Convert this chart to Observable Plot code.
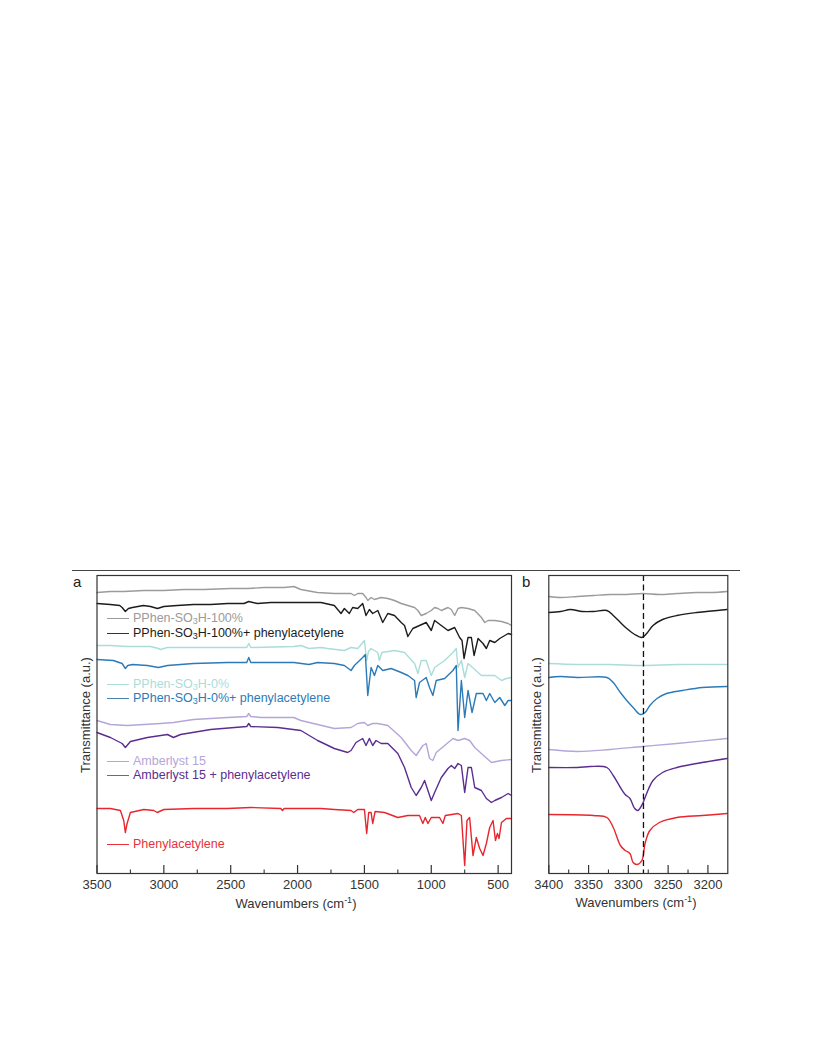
<!DOCTYPE html>
<html><head><meta charset="utf-8">
<script src="https://cdn.jsdelivr.net/npm/d3@7"></script>
<script src="https://cdn.jsdelivr.net/npm/@observablehq/plot@0.6"></script>
<style>
body{margin:0;background:#fff;font-family:"Liberation Sans",Arial,Helvetica,sans-serif;}
#page{position:relative;width:816px;height:1056px;overflow:hidden;background:#fff;}
#page svg{overflow:visible;}
</style></head><body><div id="page"></div>
<script>
// ---------- DATA (wavenumber cm-1, transmittance a.u. offset) ----------
// Panel a
const pphen100 = [[3500,281],[3400,282],[3300,282],[3150,283],[3000,283],[2850,284],[2700,284],[2500,285],[2370,285],[2250,286],[2100,286],[2028,287],[1975,284],[1853,281],[1725,280],[1600,280],[1575,278],[1550,280],[1513,280],[1488,276],[1475,273],[1450,276],[1425,274],[1375,276],[1325,275],[1275,273],[1225,270],[1175,268],[1125,266],[1100,263],[1075,258],[1038,260],[1000,263],[975,266],[950,265],[925,263],[875,266],[850,264],[825,258],[800,265],[775,266],[725,265],[675,263],[625,256],[600,251],[575,253],[525,253],[475,252],[425,250],[400,248]];
const pphen100ph = [[3500,270],[3400,269],[3330,268],[3312,266],[3288,262],[3265,265],[3235,266],[3153,268],[3100,267],[3048,265],[3000,267],[2900,268],[2778,269],[2650,269],[2523,270],[2400,270],[2365,272],[2300,270],[2200,271],[2100,271],[2028,271],[1975,271],[1825,271],[1725,268],[1675,260],[1650,265],[1613,260],[1588,266],[1550,265],[1513,270],[1488,258],[1463,264],[1438,260],[1400,263],[1363,251],[1325,260],[1275,258],[1225,251],[1200,248],[1175,237],[1138,245],[1088,248],[1038,251],[1000,243],[975,253],[925,248],[875,243],[825,246],[788,236],[770,233],[755,215],[725,236],[700,236],[680,218],[650,235],[613,230],[588,225],[563,233],[525,231],[488,235],[450,238],[425,240],[400,239]];
const pphen0 = [[3500,228],[3400,228],[3273,227],[3100,227],[3040,225],[3025,224],[2973,226],[2778,226],[2523,226],[2380,226],[2365,230],[2350,226],[2028,227],[1975,228],[1915,225],[1825,226],[1775,225],[1650,223],[1600,226],[1550,225],[1500,233],[1483,213],[1470,222],[1450,225],[1400,221],[1388,213],[1370,221],[1275,223],[1200,221],[1125,210],[1100,200],[1075,213],[1038,213],[1000,198],[975,206],[900,213],[838,221],[813,225],[800,206],[775,213],[750,196],[725,210],[625,198],[525,198],[475,193],[438,195],[400,196]];
const pphen0ph = [[3500,214],[3378,213],[3312,210],[3288,205],[3270,208],[3235,209],[3123,208],[3040,206],[2973,208],[2778,210],[2523,211],[2380,211],[2365,216],[2350,211],[2028,211],[1915,209],[1850,211],[1725,210],[1650,208],[1600,203],[1575,208],[1513,216],[1493,219],[1475,178],[1450,206],[1425,198],[1400,208],[1363,203],[1300,205],[1225,201],[1175,198],[1125,193],[1113,176],[1088,191],[1038,196],[1013,186],[988,178],[963,193],[900,195],[838,203],[813,208],[800,143],[775,193],[750,156],[725,183],[695,161],[663,180],[613,180],[588,173],[563,180],[525,171],[488,176],[450,168],[425,173],[400,173]];
const amb = [[3500,153],[3400,149],[3273,148],[3025,150],[2928,151],[2778,154],[2523,156],[2380,157],[2365,160],[2350,157],[2275,156],[2028,156],[1975,153],[1850,149],[1725,145],[1600,146],[1550,150],[1500,151],[1475,148],[1438,150],[1400,150],[1325,148],[1225,136],[1150,123],[1113,118],[1063,128],[1038,130],[1013,115],[988,113],[963,121],[900,128],[838,135],[800,133],[750,135],[713,133],[675,126],[625,120],[550,111],[475,113],[400,114]];
const ambph = [[3500,141],[3400,136],[3312,130],[3288,126],[3250,132],[3123,136],[2973,139],[2928,136],[2875,139],[2650,144],[2380,147],[2365,150],[2350,147],[2148,146],[1975,143],[1850,133],[1725,125],[1625,121],[1600,123],[1563,131],[1513,135],[1488,128],[1463,135],[1438,128],[1413,133],[1375,130],[1325,130],[1250,120],[1200,106],[1150,86],[1113,78],[1075,86],[1050,93],[1025,83],[1000,73],[975,81],[925,96],[875,105],[850,108],[825,105],[800,110],[775,108],[750,81],[725,106],[700,106],[675,86],[625,83],[588,75],[550,71],[525,73],[475,76],[425,80],[400,78]];
const phen = [[3500,65],[3400,65],[3325,63],[3300,53],[3288,41],[3275,50],[3250,61],[3150,64],[3075,63],[3050,61],[3000,64],[2775,65],[2525,65],[2350,66],[2125,65],[2113,63],[2100,65],[2025,65],[1825,65],[1725,64],[1600,63],[1580,61],[1550,64],[1500,64],[1483,40],[1468,61],[1450,61],[1438,50],[1420,62],[1350,61],[1250,56],[1175,58],[1088,58],[1063,50],[1045,56],[1025,50],[1000,56],[938,56],[913,50],[895,58],[800,60],[775,58],[750,8],[733,53],[713,56],[688,18],[663,36],[638,25],[613,18],[588,30],[563,46],[538,53],[520,33],[505,40],[493,35],[475,51],[438,55],[400,55]];

// Panel b (zoom 3400-3175)
const b_pphen100 = [[3400,277],[3385,276],[3364,277],[3344,278],[3323,279],[3302,279],[3282,280],[3261,279],[3239,280],[3214,281],[3195,281],[3176,282]];
const b_pphen100ph = [[3400,261],[3385,262],[3373,264],[3358,262],[3344,262],[3327,263],[3319,258],[3310,251],[3302,245],[3292,239],[3283,236],[3277,240],[3269,248],[3257,254],[3239,258],[3214,261],[3176,264]];
const b_pphen0 = [[3400,210],[3364,209],[3323,209],[3282,208],[3239,209],[3176,209]];
const b_pphen0ph = [[3400,196],[3385,197],[3364,196],[3327,196],[3319,191],[3310,181],[3302,173],[3294,166],[3285,159],[3279,161],[3273,168],[3264,175],[3252,180],[3232,183],[3207,186],[3176,187]];
const b_amb = [[3400,124],[3364,122],[3323,124],[3282,127],[3239,130],[3176,135]];
const b_ambph = [[3400,106],[3364,106],[3348,107],[3327,106],[3319,98],[3310,86],[3304,79],[3298,75],[3292,65],[3288,63],[3282,70],[3277,80],[3269,93],[3257,101],[3239,106],[3214,110],[3176,115]];
const b_phen = [[3400,59],[3344,58],[3327,56],[3319,46],[3310,28],[3304,23],[3298,20],[3294,11],[3289,9],[3283,13],[3279,30],[3273,43],[3261,51],[3239,56],[3207,58],[3176,60]];
const markerLine = [3281];

const seriesLabels = ["PPhen-SO3H-100%","PPhen-SO3H-100%+ phenylacetylene","PPhen-SO3H-0%","PPhen-SO3H-0%+ phenylacetylene","Amberlyst 15","Amberlyst 15 + phenylacetylene","Phenylacetylene"];
const ticksA = [3500,3000,2500,2000,1500,1000,500];
const minorA = [3250,2750,2250,1750,1250,750];
const ticksB = [3400,3350,3300,3250,3200];
const minorB = [3375,3325,3275,3225];

// ---------- STYLES ----------
const colors = ["#9b9b9b","#1c1c1c","#a9ddd9","#2b7bb9","#b4a6d8","#5b2d90","#e8262e"];
const textColors = ["#9a9a9a","#1c1c1c","#a9ddd9","#2b7bb9","#b4a6d8","#5b2d90","#e8323a"];
const swatchColors = ["#9b9b9b","#333333","#a9ddd9","#4a7fae","#b4a6d8","#7a5aa8","#e8323a"];
const legendY = [617.5, 632.5, 683.5, 698, 760.5, 775, 844];
const FONT = "'Liberation Sans', Arial, Helvetica, sans-serif";

const page = document.getElementById("page");
function place(el, css){ Object.assign(el.style, {position:"absolute"}, css); page.appendChild(el); return el; }

const dataA = [pphen100, pphen100ph, pphen0, pphen0ph, amb, ambph, phen];
const dataB = [b_pphen100, b_pphen100ph, b_pphen0, b_pphen0ph, b_amb, b_ambph, b_phen];

function axisMarks(major, minor){
  return [
    Plot.ruleX(major, {x: d=>d, insetTop: 290, stroke:"#333", strokeWidth:1.2}),
    Plot.ruleX(minor, {x: d=>d, insetTop: 294.5, stroke:"#333", strokeWidth:1.1}),
    Plot.axisX(major, {tickSize: 0, tickPadding: 6, tickFormat: d=>String(d), label: null, fontSize: 13, fill:"#333"}),
    Plot.frame({stroke:"#333", strokeWidth:1.2})
  ];
}

const plotA = Plot.plot({
  width: 460, height: 360, marginLeft: 36.5, marginRight: 9, marginTop: 15, marginBottom: 47,
  style: {fontFamily: FONT, fontSize: "13px", color:"#333", background:"none", overflow:"visible"},
  x: {domain: [3500, 400]},
  y: {domain: [0, 298], axis: null},
  marks: [
    ...dataA.map((d,i)=>Plot.line(d, {x: p=>p[0], y: p=>p[1], stroke: colors[i], strokeWidth: 1.4, strokeLinejoin:"round"})),
    ...axisMarks(ticksA, minorA)
  ]
});
place(plotA, {left:"60px", top:"560px"});

const plotB = Plot.plot({
  width: 220, height: 360, marginLeft: 28.3, marginRight: 12.7, marginTop: 15, marginBottom: 47,
  style: {fontFamily: FONT, fontSize: "13px", color:"#333", background:"none", overflow:"visible"},
  x: {domain: [3400, 3175]},
  y: {domain: [0, 298], axis: null},
  marks: [
    ...dataB.map((d,i)=>Plot.line(d, {x: p=>p[0], y: p=>p[1], stroke: colors[i], strokeWidth: 1.4, curve:"catmull-rom"})),
    Plot.ruleX(markerLine, {x: d=>d, stroke:"#111", strokeWidth:1.3, strokeDasharray:"6,3.5"}),
    ...axisMarks(ticksB, minorB)
  ]
});
place(plotB, {left:"520px", top:"560px"});

// top rule
const hr = document.createElement("div");
place(hr, {left:"72px", top:"570px", width:"668px", height:"0", borderTop:"1.3px solid #444"});

// panel letters
[["a",73],["b",522]].forEach(([t,x])=>{
  const d = document.createElement("div"); d.textContent = t;
  place(d, {left:x+"px", top:"573px", fontSize:"15px", lineHeight:"17px", color:"#222", fontFamily:FONT});
});

// y labels
[84.5, 536].forEach(x=>{
  const d = document.createElement("div"); d.textContent = "Transmittance (a.u.)";
  place(d, {left:x+"px", top:"715px", fontSize:"13px", lineHeight:"15px", color:"#333", whiteSpace:"nowrap", fontFamily:FONT, transform:"translate(-50%,-50%) rotate(-90deg)"});
});

// x titles
[[296,903],[636,902]].forEach(([x,y])=>{
  const d = document.createElement("div");
  d.innerHTML = 'Wavenumbers (cm<sup style="font-size:9px;line-height:0;vertical-align:5px">-1</sup>)';
  place(d, {left:x+"px", top:y+"px", fontSize:"13px", lineHeight:"15px", color:"#333", whiteSpace:"nowrap", fontFamily:FONT, transform:"translate(-50%,-50%)"});
});

// legend
seriesLabels.forEach((lab,i)=>{
  const d = document.createElement("div");
  const html = lab.replace("SO3H", 'SO<sub style="font-size:9px;line-height:0;vertical-align:-2px">3</sub>H');
  d.innerHTML = `<span style="display:inline-block;width:22px;height:0;border-top:1.5px solid ${swatchColors[i]};vertical-align:middle;margin-right:4px"></span><span style="color:${textColors[i]}">${html}</span>`;
  place(d, {left:"107px", top:(legendY[i]-6)+"px", fontSize:"12.5px", lineHeight:"12px", whiteSpace:"nowrap", fontFamily:FONT});
});
</script>
</body></html>
